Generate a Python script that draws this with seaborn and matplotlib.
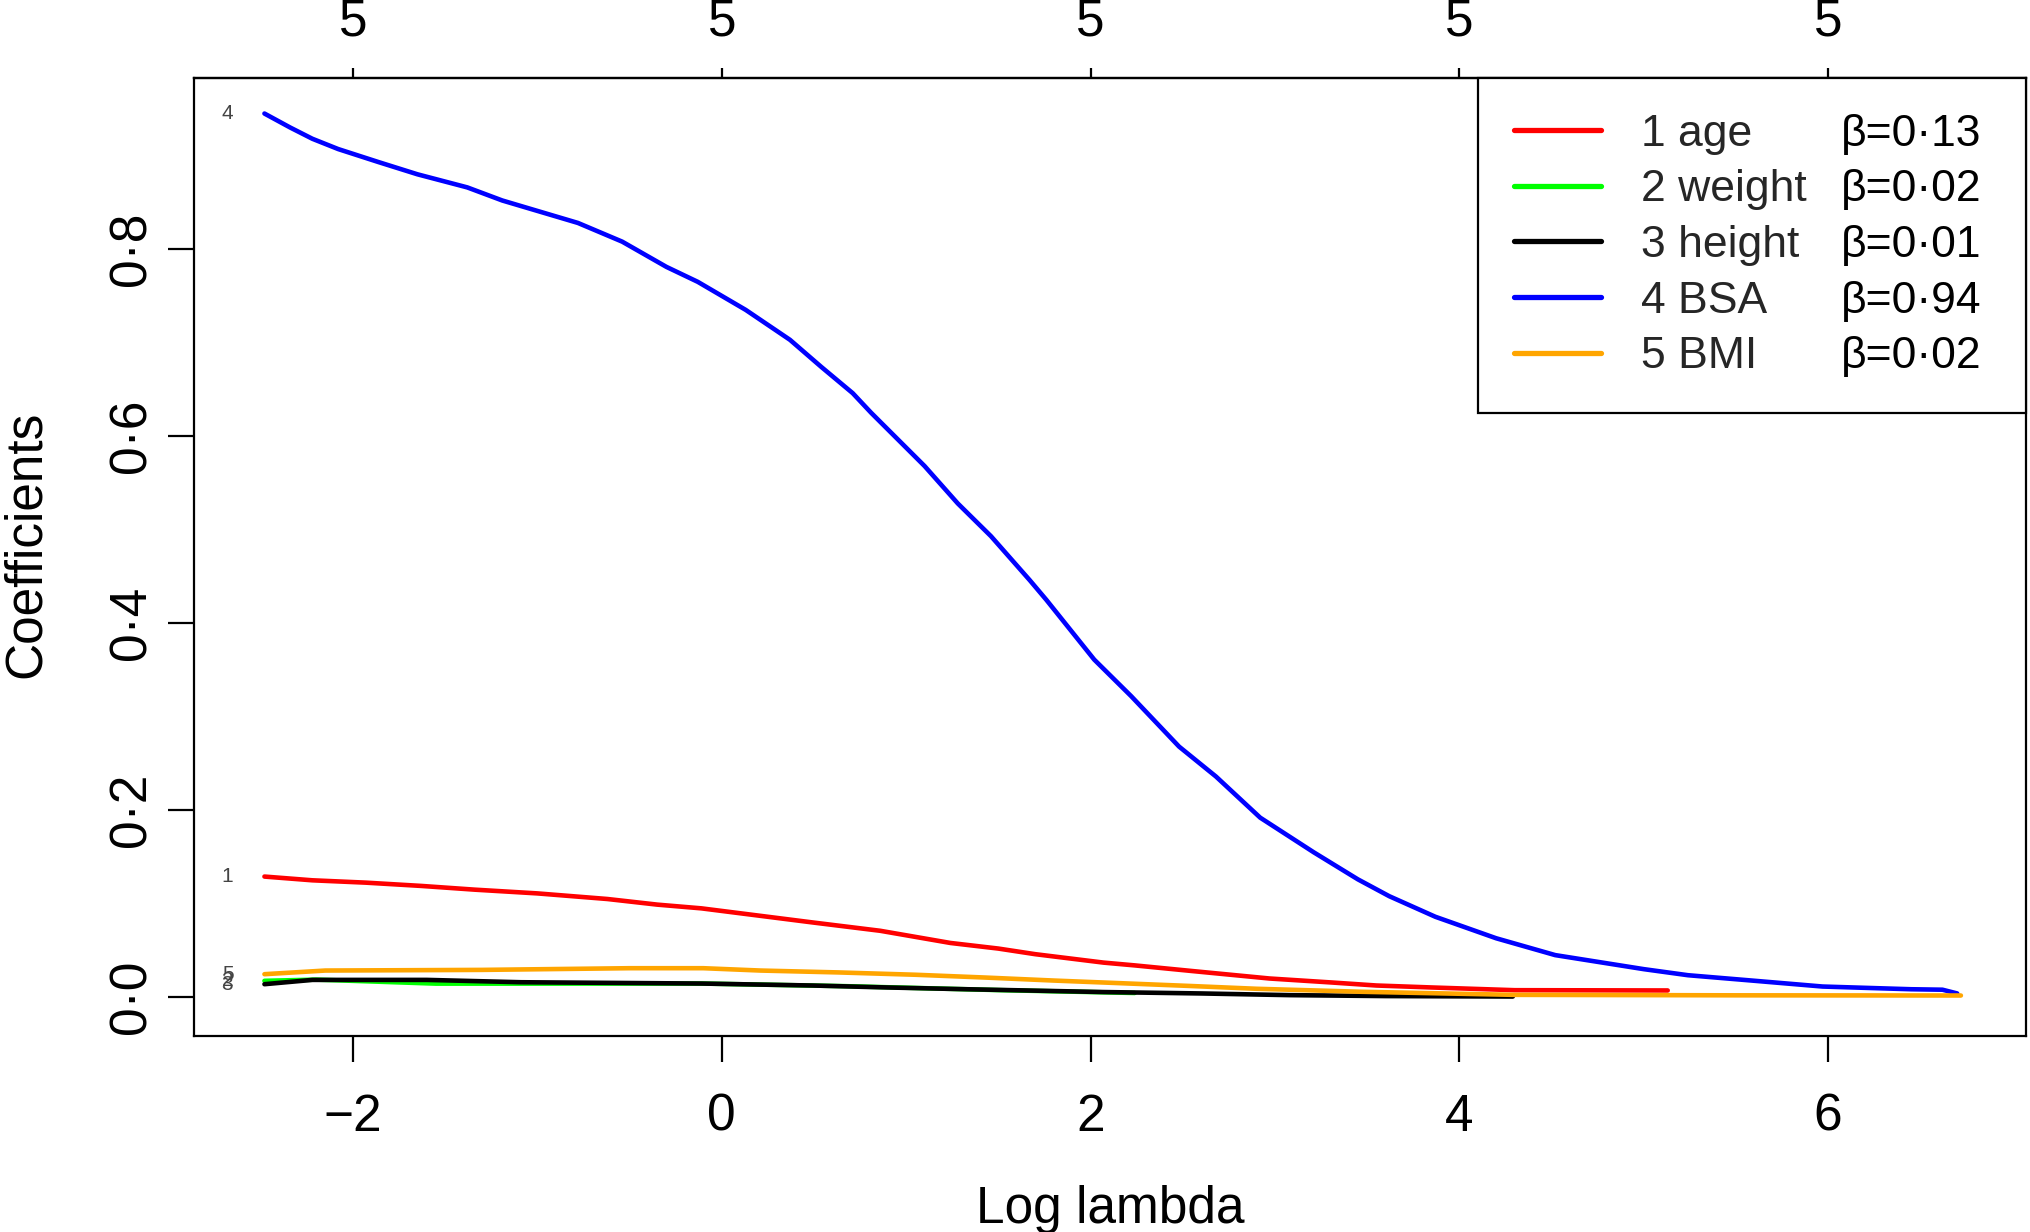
import numpy as np
import pandas as pd
import matplotlib
matplotlib.use("Agg")
import matplotlib.pyplot as plt
import seaborn as sns
from matplotlib.lines import Line2D

# ---------------- data ----------------
age_x = [-2.48, -2.22, -1.93, -1.63, -1.34, -1.00, -0.62, -0.35, -0.11, 0.13, 0.49, 0.86,
         1.24, 1.50, 1.70, 2.07, 2.24, 2.55, 2.97, 3.31, 3.55, 3.85, 4.30, 5.13]
age_y = [0.129, 0.125, 0.1225, 0.119, 0.115, 0.111, 0.105, 0.099, 0.095, 0.089, 0.080, 0.071,
         0.058, 0.052, 0.046, 0.037, 0.034, 0.028, 0.020, 0.0157, 0.0125, 0.0104, 0.0075, 0.0072]

weight_x = [-2.48, -2.20, -1.55, -1.09, -0.11, 0.67, 1.52, 2.24]
weight_y = [0.0175, 0.0188, 0.0145, 0.0145, 0.0146, 0.0118, 0.0075, 0.0045]

height_x = [-2.48, -2.22, -1.60, -1.09, -0.11, 0.49, 0.90, 1.33, 2.07, 2.60, 3.08, 3.60, 4.29]
height_y = [0.0139, 0.0185, 0.0185, 0.016, 0.0146, 0.0125, 0.0104, 0.0085, 0.0055, 0.004,
            0.0022, 0.0012, 0.0007]

bsa_x = [-2.48, -2.34, -2.22, -2.08, -1.86, -1.65, -1.38, -1.19, -0.78, -0.54,
         -0.30, -0.13, 0.13, 0.37, 0.54, 0.71, 0.81, 1.10, 1.28, 1.46, 1.67, 1.76, 2.02, 2.22,
         2.48, 2.68, 2.92, 3.21, 3.45, 3.62, 3.87, 4.20, 4.52, 5.00, 5.24, 5.61, 5.97, 6.45,
         6.62, 6.70]
bsa_y = [0.945, 0.930, 0.918, 0.907, 0.893, 0.880, 0.866, 0.852, 0.828, 0.808,
         0.781, 0.765, 0.735, 0.703, 0.674, 0.646, 0.625, 0.568, 0.528, 0.493, 0.446, 0.425,
         0.361, 0.322, 0.268, 0.236, 0.192, 0.155, 0.126, 0.108, 0.086, 0.063, 0.045, 0.030,
         0.0235, 0.0174, 0.0114, 0.0085, 0.0080, 0.004]

bmi_x = [-2.48, -2.15, -1.30, -0.50, -0.10, 0.21, 0.63, 1.05, 1.43, 1.80, 2.16, 2.54, 2.90,
         3.47, 4.30, 5.50, 6.72]
bmi_y = [0.0246, 0.0285, 0.0292, 0.031, 0.031, 0.0285, 0.0265, 0.024, 0.021, 0.0178, 0.015,
         0.012, 0.009, 0.0058, 0.0025, 0.002, 0.0018]

var_index = ["1", "2", "3", "4", "5"]
var_names = ["age", "weight", "height", "BSA", "BMI"]
betas = ["β=0·13", "β=0·02", "β=0·01", "β=0·94", "β=0·02"]
series_x = [age_x, weight_x, height_x, bsa_x, bmi_x]
series_y = [age_y, weight_y, height_y, bsa_y, bmi_y]
colors = ["#FF0000", "#00FF00", "#000000", "#0000FF", "#FFA500"]

x_ticks = [-2, 0, 2, 4, 6]
x_tick_labels = ["\u22122", "0", "2", "4", "6"]
top_tick_labels = ["5", "5", "5", "5", "5"]
y_ticks = [0.0, 0.2, 0.4, 0.6, 0.8]
y_tick_labels = ["0·0", "0·2", "0·4", "0·6", "0·8"]

# ---------------- style ----------------
sns.set_theme(style="white")
plt.rcParams["font.family"] = ["Liberation Sans", "DejaVu Sans"]
plt.rcParams["axes.edgecolor"] = "black"
plt.rcParams["axes.linewidth"] = 1.6

W, H = 2030, 1232
fig = plt.figure(figsize=(W / 100, H / 100), dpi=100)
fig.patch.set_facecolor("white")
ax = fig.add_axes([194 / W, 196 / H, 1832 / W, 958 / H])
ax.set_facecolor("white")

rows = []
for idx, name, xs, ys in zip(var_index, var_names, series_x, series_y):
    for xv, yv in zip(xs, ys):
        rows.append({"var": f"{idx} {name}", "x": xv, "y": yv})
df = pd.DataFrame(rows)

labels_full = [f"{i} {n}" for i, n in zip(var_index, var_names)]
for lab, col in zip(labels_full, colors):
    sub = df[df["var"] == lab]
    sns.lineplot(data=sub, x="x", y="y", color=col, lw=3.3, ax=ax, legend=False,
                 estimator=None, sort=False)

# small index labels at the left end of each path (overlapping, as in the original)
for idx, xs, ys in zip(var_index, series_x, series_y):
    ax.text(xs[0] - 0.2, ys[0], idx, fontsize=15, color="#444444", ha="center", va="center")

ax.set_xlim(-2.862, 7.073)
ax.set_ylim(-0.0415, 0.983)

ax.set_xticks(x_ticks, x_tick_labels)
ax.set_yticks(y_ticks, y_tick_labels, rotation=90, va="center")
ax.tick_params(axis="x", which="major", bottom=True, length=18.7, width=1.6, pad=22,
               labelsize=37, colors="black", direction="out")
ax.tick_params(axis="y", which="major", left=True, length=18.7, width=1.6, pad=8.6,
               labelsize=37, colors="black", direction="out")

secax = ax.secondary_xaxis("top")
secax.set_xticks(x_ticks, top_tick_labels)
secax.tick_params(axis="x", length=7, width=1.6, pad=16, labelsize=37, colors="black",
                  direction="out")
secax.spines["top"].set_linewidth(1.6)

for sp in ax.spines.values():
    sp.set_visible(True)
    sp.set_color("black")
    sp.set_linewidth(1.6)

ax.set_xlabel("Log lambda", fontsize=37, color="black")
ax.set_ylabel("Coefficients", fontsize=37, color="black")
ax.xaxis.set_label_coords(0.5, -0.1555)
ax.yaxis.set_label_coords(-0.078, 0.513)

# legend
handles = [Line2D([0], [0], color=c, lw=3.8) for c in colors]
x0 = (1478 - 194) / 1832
leg = ax.legend(handles, labels_full, loc="upper right", bbox_to_anchor=(x0, 0, 1 - x0, 1),
                mode="expand", borderaxespad=0, fontsize=32, frameon=True, fancybox=False,
                shadow=False, framealpha=1, edgecolor="black", borderpad=0.8,
                labelspacing=0.33, handlelength=1.96, handletextpad=0.9)
leg.get_frame().set_linewidth(1.6)
leg.set_zorder(5)

fig.canvas.draw()
inv = fig.transFigure.inverted()
for t, b in zip(leg.get_texts(), betas):
    px, py = t.get_transform().transform(t.get_position())
    _, fy = inv.transform((px, py))
    fig.text(1841 / W, fy, b, fontsize=32, color="black", ha="left", va=t.get_va(),
             zorder=10)

fig.savefig("out.png", dpi=100, facecolor="white")
